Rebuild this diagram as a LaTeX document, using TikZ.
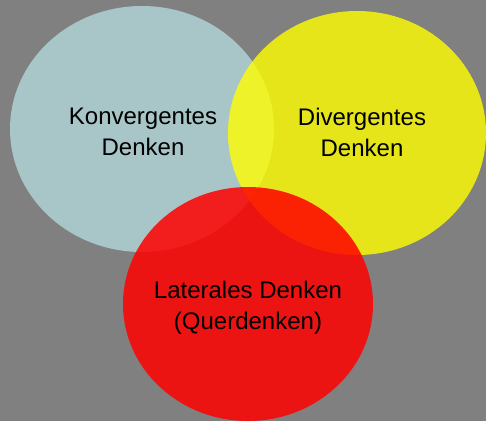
\documentclass[tikz,border=0pt]{standalone}
\usepackage{fontspec}
\setmainfont{Liberation Sans}
\begin{document}
\begin{tikzpicture}[x=1pt,y=-1pt,
  lbl/.style={align=center,font=\fontsize{24}{31}\selectfont,text=black,inner sep=0pt}]
\useasboundingbox (0,0) rectangle (486,421);
\fill[gray!100!black,fill={rgb,255:red,128;green,128;blue,128}] (0,0) rectangle (486,421);
\fill[fill={rgb,255:red,168;green,197;blue,200}] (142,129) ellipse [x radius=132,y radius=123];
\fill[fill={rgb,255:red,255;green,255;blue,0},fill opacity=0.8] (357,133) ellipse [x radius=129,y radius=122];
\fill[fill={rgb,255:red,255;green,0;blue,0},fill opacity=0.85] (248,304) ellipse [x radius=125,y radius=117];
\node[lbl] (konv) at (143,132) {Konvergentes\\Denken};
\node[lbl] (div) at (362,132) {Divergentes\\Denken};
\node[lbl] (lat) at (248,308) {Laterales Denken\\(Querdenken)};
\end{tikzpicture}
\end{document}
